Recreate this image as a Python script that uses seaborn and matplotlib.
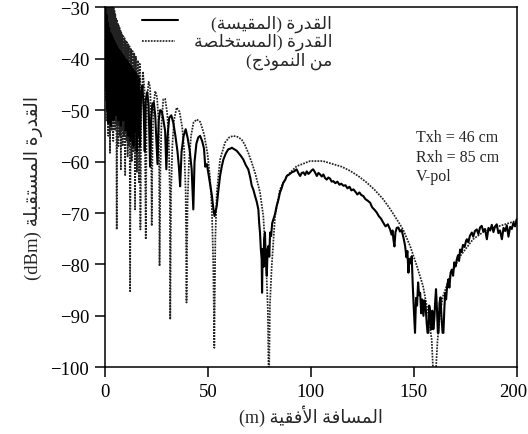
import matplotlib
matplotlib.use("Agg")
import matplotlib.pyplot as plt
import matplotlib.transforms as mtransforms
import seaborn as sns
import pandas as pd

# ---------------------------------------------------------------- data
# Two-ray model curve (dBm) vs. horizontal distance (m)
model_near_x = [0.2, 0.4, 0.6, 0.8, 1.0, 1.2, 1.4, 1.6, 1.8, 2.0, 2.2, 2.4, 2.6, 2.8,
                3.0, 3.2, 3.4, 3.6, 3.8, 4.0, 4.2, 4.4, 4.6, 4.8, 5.0, 5.2, 5.4, 5.7,
                5.9, 6.1, 6.3, 6.5, 6.7, 6.9, 7.1, 7.3, 7.5, 7.7, 7.9, 8.1, 8.3, 8.6,
                8.9, 9.2, 9.5, 9.8, 10.1, 10.4, 10.7, 11.0, 11.3, 11.6, 11.9, 12.2,
                12.6, 13.0, 13.4, 13.8, 14.2, 14.6, 15.0, 15.5, 16.0, 16.5, 16.9, 17.2]
model_near_y = [-18, -48, -20, -52, -21.5, -47, -23, -55, -24.5, -50, -25.5, -58.3,
                -26.5, -51, -27.5, -54, -28.4, -49, -29.2, -56, -30, -50, -30.7, -54,
                -31.4, -52, -32, -73.2, -32.6, -53, -33.1, -57, -33.6, -52, -34, -55,
                -34.4, -61.5, -34.8, -54, -35.2, -57, -35.6, -55, -36, -62.8, -36.4,
                -56, -36.8, -59, -37.2, -57, -37.6, -85.2, -38, -60, -38.5, -58, -39,
                -69.3, -39.6, -62, -40.3, -64, -41, -73.2]
model_far_x = [17.6, 18.4, 19.2, 19.8, 20.2, 20.6, 21.2, 21.9, 22.3, 22.7, 23.1, 23.6,
               24.4, 25.3, 26.0, 26.3, 26.5, 26.9, 27.4, 28.3, 29.2, 30.2, 31.0, 31.5,
               31.7, 32.1, 32.7, 33.5, 34.8, 36.2, 37.5, 38.5, 39.2, 39.6, 40.1, 40.8,
               41.8, 43.0, 44.6, 46.3, 48.2, 49.8, 51.0, 51.9, 52.6, 53.1, 53.6, 54.3,
               55.9, 58.3, 60.3, 62.3, 64.4, 66.4, 68.0, 69.6, 71.3, 72.9, 74.2, 75.3,
               76.9, 78.2, 79.1, 79.6, 80.1, 81.0, 82.6, 85.0, 88.3, 93.1, 99.6, 105.9,
               110.8, 115.0, 119.1, 123.0, 127.2, 131.0, 135.1, 138.5, 141.7, 144.8,
               148.2, 151.5, 154.5, 156.9, 158.7, 160.0, 161.5, 162.8, 164.2, 167.6,
               172.5, 178.8, 185.5, 191.9, 200.0]
model_far_y = [-50, -42.5, -46, -75.1, -53, -47, -44.5, -45.5, -50, -72.5, -56, -49,
               -46.3, -47.5, -52, -62, -80.3, -62, -53, -47.9, -47.8, -50.5, -56, -66,
               -90.7, -66, -57, -52, -49.5, -50.3, -53.3, -58, -66, -87.4, -68, -60,
               -55, -52.4, -51.8, -52.3, -54.8, -58.5, -63, -69, -80, -96.2, -75, -66,
               -59.6, -56.3, -55.3, -55.0, -55.2, -55.7, -56.8, -58.3, -60.2, -62.2,
               -64.2, -66, -70.6, -79, -88.7, -106, -88, -80.3, -70.6, -65.4, -62.8,
               -60.9, -59.9, -59.9, -60.5, -61, -61.8, -62.8, -64.1, -65.5, -67.3,
               -69.2, -71.2, -73.2, -76.4, -80.3, -84.2, -89.3, -94.6, -106, -95,
               -89.3, -86.2, -82.3, -78.4, -75.1, -73.2, -72.5, -71.5]

# Measured received power (dBm) vs. horizontal distance (m)
meas_near_x = [0.2, 0.5, 0.8, 1.1, 1.4, 1.7, 2.0, 2.3, 2.6, 2.9, 3.2, 3.5, 3.8, 4.1,
               4.4, 4.7, 5.0, 5.3, 5.6, 5.9, 6.2, 6.5, 6.8, 7.1, 7.4, 7.7, 8.0, 8.3,
               8.6, 8.9, 9.2, 9.5, 9.8, 10.1, 10.4, 10.7, 11.0, 11.3, 11.6, 11.9, 12.2,
               12.5, 12.8, 13.1, 13.4, 13.8, 14.2, 14.6, 15.0, 15.4, 15.8, 16.2, 16.6,
               17.0]
meas_near_y = [-29, -46, -31.5, -50, -33, -52.5, -34, -49, -35, -53, -35.5, -50, -36,
               -52, -36.5, -48, -37, -51, -37.5, -47, -38, -52, -38.3, -49, -38.6, -53,
               -39, -48.5, -39.3, -52, -39.6, -50, -40, -54, -40.3, -51, -40.6, -55,
               -41, -52, -41.3, -56, -41.6, -53, -42, -57, -42.4, -54, -42.8, -58,
               -43.3, -55, -43.8, -57]
meas_mid_x = [17.5, 18.2, 18.8, 19.3, 19.8, 20.5, 21.2, 21.9, 22.4, 23.0, 23.7, 24.4,
              25.0, 25.5, 26.1, 26.8, 27.6, 28.4, 29.2, 29.8, 30.4, 31.2, 32.2, 33.2,
              34.2, 35.2, 35.9, 36.5, 37.2, 38.2, 39.2, 40.2, 41.2, 42.1, 42.9, 43.5,
              44.4, 45.3, 46.2, 47.2, 48.1, 48.7, 49.5, 50.3, 51.1, 51.9, 52.6, 53.2,
              53.8, 54.3, 55.1, 55.9, 56.7, 57.5, 58.7, 59.9, 60.8, 61.6, 62.8, 64.0,
              65.2, 66.2, 67.2, 68.4, 69.6, 70.5, 71.3, 72.1, 72.9, 73.7, 74.5, 74.9,
              75.3, 75.7, 76.1, 76.3, 76.6, 77.0, 77.3, 77.7, 78.1, 78.6, 79.0, 79.4,
              79.8, 80.2, 80.7, 81.2, 81.8, 82.6, 83.4, 84.2, 85.0, 85.8, 86.6, 87.5,
              88.3, 89.5, 90.7, 91.9, 93.1, 94.0, 94.8, 95.6, 96.4, 97.2, 98.0, 98.8,
              99.6]
meas_mid_y = [-47, -45.2, -50, -58, -48, -46.5, -49, -61, -52, -48.8, -48.5, -51, -56,
              -60.5, -52, -50, -50.2, -52, -54, -61.5, -55, -51.5, -51, -52.5, -55,
              -58, -61, -64.8, -58, -55, -53.7, -55.5, -58, -61.5, -69.3, -60, -56.5,
              -55.3, -55, -56, -57.5, -61, -60.5, -62.5, -64.5, -66.5, -69, -70.6,
              -69.5, -68.6, -65.5, -62.8, -61, -59.6, -58.4, -57.6, -57.5, -57.3,
              -57.6, -57.9, -58.5, -59, -59.6, -60.7, -61.5, -63, -64.7, -65.5, -66.7,
              -67.8, -69.3, -72, -73.8, -77, -79, -85.5, -77, -80.5, -75, -73.8, -79,
              -82.2, -77, -76.4, -78.5, -73.8, -74.5, -72, -71.2, -70.2, -68.6, -67.5,
              -66, -65.2, -64.1, -63.6, -62.8, -62.5, -62.1, -61.9, -61.5, -62.3,
              -62.8, -62.2, -62.1, -62.6, -61.9, -62.4, -62.1]
meas_far_x = [100.4, 101.1, 101.9, 102.9, 103.7, 104.5, 105.3, 106.1, 106.9, 107.7,
              108.5, 109.3, 110.1, 110.9, 111.9, 112.9, 113.9, 114.8, 115.8, 116.8,
              117.8, 118.8, 119.7, 120.7, 121.7, 122.6, 123.6, 124.5, 125.5, 126.5,
              127.6, 128.8, 129.8, 131.0, 132.0, 133.0, 134.1, 135.2, 136.3, 137.4,
              138.5, 139.2, 139.7, 140.1, 140.6, 141.1, 141.7, 142.5, 143.3, 144.1,
              145.0, 145.8, 146.4, 146.9, 147.4, 147.9, 148.5, 149.0, 149.5, 150.0,
              150.6, 151.1, 151.6, 152.1, 152.6, 153.1, 153.6, 154.1, 154.7, 155.2,
              155.8, 156.3, 156.7, 157.1, 157.5, 158.0, 158.5, 159.0, 159.5, 160.0,
              160.4, 160.8, 161.3, 161.7, 162.0, 162.5, 163.0, 163.5, 164.0, 164.4,
              164.9, 165.3, 165.7, 166.2, 166.8, 167.3, 167.9, 168.5, 169.1, 169.7,
              170.3, 170.9, 171.5, 172.0, 172.5, 173.2, 173.9, 174.7, 175.4, 175.8,
              176.5, 177.3, 178.2, 178.9, 179.7, 180.6, 181.4, 182.2, 183.0, 183.8,
              184.6, 185.5, 186.3, 187.1, 187.9, 188.7, 189.5, 190.3, 191.1, 191.9,
              192.8, 193.6, 194.4, 195.2, 196.0, 196.8, 197.6, 198.4, 199.2, 200.0]
meas_far_y = [-61.7, -61.5, -62, -62.8, -62.2, -62.5, -62.9, -62.5, -63.2, -63.5,
              -63.1, -63.3, -63.9, -63.8, -64.2, -63.9, -64.5, -64.3, -64.7, -64.6,
              -65.2, -64.9, -65.6, -65.4, -65.9, -66.4, -66, -66.5, -66.7, -67.3,
              -67.6, -68, -68.9, -69.4, -69.9, -70.6, -71.1, -71.9, -72.6, -72.2,
              -73.2, -74.2, -73.4, -75.1, -76.5, -73.8, -72.9, -72.8, -73.6, -73.3,
              -74.8, -76.4, -78.6, -77.4, -81.6, -78.9, -79.8, -78.4, -84, -88.5,
              -93.3, -86.5, -88, -83.5, -86, -85.5, -89.5, -86.8, -90, -87, -88.5,
              -91.5, -93.3, -93.3, -88, -89.2, -92.6, -89, -92.6, -90.5, -87.2, -84.8,
              -89, -93.3, -93.3, -87.5, -86.4, -90.5, -93.3, -93.3, -88.2, -85.6,
              -86.8, -84.2, -82.9, -84.5, -81.6, -81, -82.2, -79.6, -80.4, -79, -78.2,
              -79.3, -77.1, -77.6, -76.2, -76.6, -75.4, -75.1, -75.7, -74.4, -73.8,
              -74.6, -73.5, -73.2, -74.1, -72.8, -72.5, -73.6, -73.1, -75.1, -72.9,
              -73.4, -72.3, -73.7, -72.6, -72.2, -73.9, -73.4, -75.1, -72.9, -73.5,
              -72.4, -74.6, -72.7, -73.1, -71.9, -72.6, -71.2]

x_ticks = [0, 50, 100, 150, 200]
y_ticks = [-30, -40, -50, -60, -70, -80, -90, -100]

ylabel_ar = "القدرة المستقبلة"
xlabel_ar = "المسافة الأفقية"
legend_measured = "القدرة (المقيسة)"
legend_model_1 = "القدرة (المستخلصة"
legend_model_2 = "من النموذج)"
params = ["Txh = 46 cm", "Rxh = 85 cm", "V-pol"]

# ---------------------------------------------------------------- Arabic shaping
# (codepoint -> first presentation form, number of forms)
_FORMS = {0x0622: (0xFE81, 2), 0x0623: (0xFE83, 2), 0x0624: (0xFE85, 2),
          0x0625: (0xFE87, 2), 0x0626: (0xFE89, 4), 0x0627: (0xFE8D, 2),
          0x0628: (0xFE8F, 4), 0x0629: (0xFE93, 2), 0x062A: (0xFE95, 4),
          0x062B: (0xFE99, 4), 0x062C: (0xFE9D, 4), 0x062D: (0xFEA1, 4),
          0x062E: (0xFEA5, 4), 0x062F: (0xFEA9, 2), 0x0630: (0xFEAB, 2),
          0x0631: (0xFEAD, 2), 0x0632: (0xFEAF, 2), 0x0633: (0xFEB1, 4),
          0x0634: (0xFEB5, 4), 0x0635: (0xFEB9, 4), 0x0636: (0xFEBD, 4),
          0x0637: (0xFEC1, 4), 0x0638: (0xFEC5, 4), 0x0639: (0xFEC9, 4),
          0x063A: (0xFECD, 4), 0x0641: (0xFED1, 4), 0x0642: (0xFED5, 4),
          0x0643: (0xFED9, 4), 0x0644: (0xFEDD, 4), 0x0645: (0xFEE1, 4),
          0x0646: (0xFEE5, 4), 0x0647: (0xFEE9, 4), 0x0648: (0xFEED, 2),
          0x0649: (0xFEEF, 2), 0x064A: (0xFEF1, 4)}
_LAM_ALEF = {0x0622: 0xFEF5, 0x0623: 0xFEF7, 0x0625: 0xFEF9, 0x0627: 0xFEFB}


def shape(text):
    out, i, n, prev_joins = [], 0, len(text), False
    while i < n:
        cp = ord(text[i])
        if cp not in _FORMS:
            out.append(text[i]); prev_joins = False; i += 1
            continue
        base, nforms = _FORMS[cp]
        if cp == 0x0644 and i + 1 < n and ord(text[i + 1]) in _LAM_ALEF:
            out.append(chr(_LAM_ALEF[ord(text[i + 1])] + (1 if prev_joins else 0)))
            prev_joins = False; i += 2
            continue
        nxt = ord(text[i + 1]) if i + 1 < n else None
        joins_next = nforms == 4 and nxt in _FORMS
        form = {(False, False): 0, (True, False): 1,
                (False, True): 2, (True, True): 3}[(prev_joins, joins_next)]
        out.append(chr(base + form))
        prev_joins = nforms == 4
        i += 1
    return "".join(out)


def visual(text):
    mirror = {"(": ")", ")": "("}
    return "".join(mirror.get(c, c) for c in reversed(shape(text)))


# ---------------------------------------------------------------- figure
sns.set_style("ticks")
plt.rcParams["font.family"] = ["Liberation Serif", "DejaVu Sans"]
plt.rcParams["axes.unicode_minus"] = True
MIXED = ["Liberation Serif", "DejaVu Sans"]

model = pd.DataFrame({"d": model_near_x + model_far_x, "p": model_near_y + model_far_y})
meas = pd.DataFrame({"d": meas_near_x + meas_mid_x + meas_far_x,
                     "p": meas_near_y + meas_mid_y + meas_far_y})

fig = plt.figure(figsize=(5.28, 4.35), dpi=100)
W, H = 528, 435
ax = fig.add_axes([105 / W, 1 - 368.3 / H, (516.7 - 105) / W, 360 / H])

DOTS = (0, (1, 0.7))
sns.lineplot(data=model, x="d", y="p", ax=ax, color="#222222", lw=1.25,
             linestyle=DOTS, sort=False, estimator=None)
sns.lineplot(data=meas, x="d", y="p", ax=ax, color="black", lw=1.5,
             sort=False, estimator=None)

ax.set_xlim(0, 200)
ax.set_ylim(-100, -30)
ax.set_xticks(x_ticks)
ax.set_yticks(y_ticks)
ax.tick_params(direction="out", length=7.5, width=1.1, labelsize=13.5, pad=4,
               colors="black")
for s in ax.spines.values():
    s.set_visible(True)
    s.set_linewidth(1.1)
    s.set_color("black")

# keep the right-most x tick label inside the canvas
last = ax.get_xticklabels()[-1]
last.set_transform(last.get_transform() +
                   mtransforms.ScaledTranslation(-4 / 100, 0, fig.dpi_scale_trans))

ax.set_xlabel("(m) " + visual(xlabel_ar), fontsize=13, family=MIXED, labelpad=3)
ax.set_ylabel("(dBm) " + visual(ylabel_ar), fontsize=13.5, family=MIXED, labelpad=5)


def ax_x(px):
    return (px - 105) / 411.7


def ax_y(py):
    return (368.3 - py) / 360


# legend keys and labels
ax.plot([ax_x(141.7), ax_x(178.3)], [ax_y(20.7)] * 2, transform=ax.transAxes,
        color="black", lw=1.5, clip_on=False)
ax.plot([ax_x(141.7), ax_x(175)], [ax_y(41.7)] * 2, transform=ax.transAxes,
        color="#222222", lw=1.25, linestyle=DOTS, clip_on=False)
for txt, py in [(legend_measured, 24), (legend_model_1, 42), (legend_model_2, 61)]:
    ax.text(ax_x(332), ax_y(py), visual(txt), transform=ax.transAxes, ha="right",
            va="center", fontsize=12.5, family=MIXED)

for txt, py in zip(params, [138, 158, 177]):
    ax.text(ax_x(416), ax_y(py), txt, transform=ax.transAxes, ha="left",
            va="center", fontsize=11.5, family=MIXED)

fig.savefig("out.png", dpi=100)
